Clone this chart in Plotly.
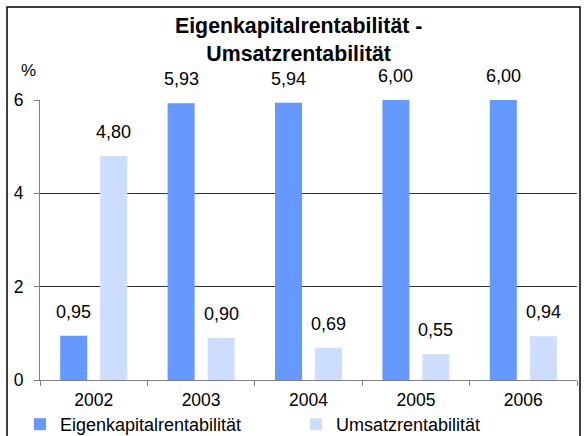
import plotly.graph_objects as go

years = ["2002", "2003", "2004", "2005", "2006"]
eigenkapital = [0.95, 5.93, 5.94, 6.00, 6.00]
umsatz = [4.80, 0.90, 0.69, 0.55, 0.94]
series_names = ["Eigenkapitalrentabilität", "Umsatzrentabilität"]
y_ticks = [0, 2, 4, 6]

W, H = 584, 436
L, R, T, B = 40, 577, 100, 380  # plot area in pixels
FONT = "Liberation Sans, Arial, sans-serif"

c1 = "#6699FF"
c2 = "#CCDDFF"

fig = go.Figure()
fig.add_trace(go.Bar(x=years, y=eigenkapital, name=series_names[0], marker=dict(color=c1, line=dict(width=0))))
fig.add_trace(go.Bar(x=years, y=umsatz, name=series_names[1], marker=dict(color=c2, line=dict(width=0))))

def fmt(v):
    return f"{v:.2f}".replace(".", ",")

ann = []
for xs, vals in ((-20, eigenkapital), (20, umsatz)):
    for i, v in enumerate(vals):
        ann.append(dict(x=i, y=v, xref="x", yref="y", text=fmt(v), showarrow=False,
                        xshift=xs, yshift=24, yanchor="middle",
                        font=dict(family=FONT, size=18, color="black")))

pw, ph = R - L, B - T
ann.append(dict(x=(28 - L) / pw, y=(B - 71) / ph, xref="paper", yref="paper", text="%",
                showarrow=False, xanchor="center", yanchor="middle",
                font=dict(family=FONT, size=17, color="black")))
ann.append(dict(x=(298 - L) / pw, y=(B - 39.5) / ph, xref="paper", yref="paper",
                text="<b>Eigenkapitalrentabilität -<br>Umsatzrentabilität</b>",
                showarrow=False, xanchor="center", yanchor="middle",
                font=dict(family=FONT, size=21.3, color="black")))

fig.update_layout(
    width=W, height=H,
    margin=dict(l=L, r=W - R, t=T, b=H - B, pad=0, autoexpand=False),
    paper_bgcolor="white", plot_bgcolor="white",
    bargap=0.255, bargroupgap=0.325, barmode="group",
    showlegend=True,
    legend=dict(orientation="h",
                x=(20 - L) / pw, xanchor="left", y=(B - 406) / ph, yanchor="top",
                font=dict(family=FONT, size=18, color="black"),
                entrywidth=231, entrywidthmode="pixels", bgcolor="rgba(0,0,0,0)",
                traceorder="normal"),
    annotations=ann,
    shapes=[dict(type="rect", xref="paper", yref="paper",
                 x0=(7 - L) / pw, x1=(580 - L) / pw, y0=(B - 445) / ph, y1=(B - 7) / ph,
                 line=dict(color="black", width=1.5), fillcolor="rgba(0,0,0,0)", layer="above")],
)

fig.update_xaxes(type="category", showline=True, linecolor="#808080", linewidth=1,
                 ticks="outside", tickson="boundaries", ticklen=5, tickcolor="#808080",
                 showgrid=False, ticklabelstandoff=4,
                 tickfont=dict(family=FONT, size=17.5, color="black"))
fig.update_yaxes(range=[0, 6], tickvals=y_ticks, ticktext=[str(t) for t in y_ticks],
                 showline=True, linecolor="#808080", linewidth=1,
                 ticks="outside", ticklen=5, tickcolor="#808080",
                 showgrid=True, gridcolor="#333333", gridwidth=1, zeroline=False,
                 ticklabelstandoff=7,
                 tickfont=dict(family=FONT, size=17.5, color="black"))

fig.write_html("out.html", config={"displayModeBar": False},
               post_script="document.body.style.margin='0';document.body.style.overflow='hidden';")
